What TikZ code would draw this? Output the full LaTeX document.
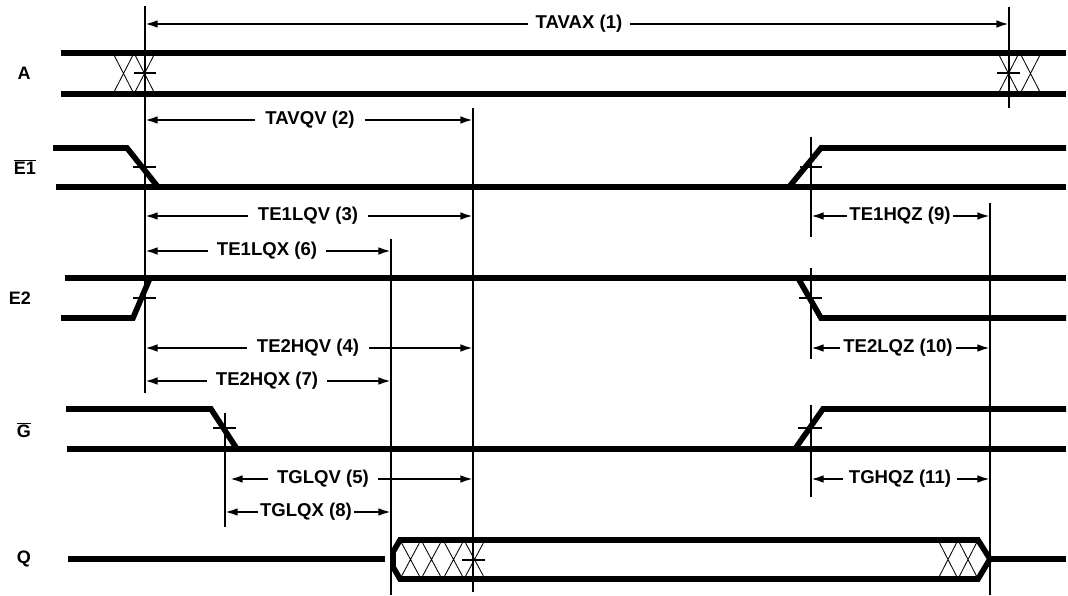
\documentclass[tikz,border=0pt]{standalone}
\usepackage{fontspec}
\setmainfont{Liberation Sans}
\usetikzlibrary{arrows.meta}

\begin{document}
\begin{tikzpicture}[x=0.025cm,y=-0.025cm,
    sig/.style={line width=4pt},
    hatch/.style={line width=0.6pt},
    marker/.style={line width=1.5pt},
    tickmark/.style={line width=1.4pt},
    dim/.style={line width=1.5pt,-{Latex[length=9pt,width=5.5pt]}},
    tlabel/.style={font=\bfseries\fontsize{13.2}{15}\selectfont,inner xsep=5pt,inner ysep=0pt},
    slabel/.style={font=\bfseries\fontsize{12.8}{15}\selectfont}]

      \useasboundingbox (0,0) rectangle (1068,596);

      % Signal names
      \node[slabel] (nA) at (24,73) {A};
      \node[slabel] (nE1) at (25,167) {$\overline{\hbox{E1}}$};
      \node[slabel] (nE2) at (20,298) {E2};
      \node[slabel] (nG) at (24,430) {$\overline{\hbox{G}}$};
      \node[slabel] (nQ) at (24,559) {Q};

      % Marker positions
      \coordinate (mA) at (145,0);
      \coordinate (mB) at (1009,0);
      \coordinate (mC) at (473,0);
      \coordinate (mD) at (391,0);
      \coordinate (mE) at (225,0);
      \coordinate (mF) at (811,0);
      \coordinate (mG) at (990,0);

      % Hatching
      \foreach \x in {113,134}
        \draw[hatch] (\x,53) -- (\x+21,94) (\x,94) -- (\x+21,53);
      \foreach \x in {998,1020}
        \draw[hatch] (\x,53) -- (\x+21,94) (\x,94) -- (\x+21,53);
      \foreach \x in {400,421,443,464}
        \draw[hatch] (\x,540) -- (\x+21,579) (\x,579) -- (\x+21,540);
      \foreach \x in {938,958}
        \draw[hatch] (\x,540) -- (\x+20,579) (\x,579) -- (\x+20,540);

      % Signals
      \draw[sig] (61,53) -- (1066,53);
      \draw[sig] (61,94) -- (1066,94);

      \draw[sig] (53,148) -- (127,148) -- (158,187);
      \draw[sig] (56,187) -- (1066,187);
      \draw[sig] (789,187) -- (821,148) -- (1066,148);

      \draw[sig] (65,278) -- (1066,278);
      \draw[sig] (61,318) -- (133,318) -- (150,278);
      \draw[sig] (798,278) -- (821,318) -- (1066,318);

      \draw[sig] (66,409) -- (211,409) -- (237,449);
      \draw[sig] (67,449) -- (1066,449);
      \draw[sig] (795,449) -- (823,409) -- (1066,409);

      \draw[sig] (68,559) -- (385,559);
      \draw[sig] (400,540) -- (978,540) -- (990,559) -- (978,579) -- (400,579)
        -- (393,567) -- (393,552) -- cycle;
      \draw[sig] (990,559) -- (1066,559);

      % Vertical markers
      \draw[marker] (145,6) -- (145,393);
      \draw[marker] (1009,7) -- (1009,108);
      \draw[marker] (473,108) -- (473,592);
      \draw[marker] (391,239) -- (391,595);
      \draw[marker] (225,413) -- (225,527);
      \draw[marker] (811,137) -- (811,237);
      \draw[marker] (811,268) -- (811,359);
      \draw[marker] (811,405) -- (811,497);
      \draw[marker] (990,203) -- (990,595);

      % Crossing ticks
      \draw[tickmark] (134,73) -- (156,73);
      \draw[tickmark] (997,73) -- (1020,73);
      \draw[tickmark] (133,167) -- (156,167);
      \draw[tickmark] (800,167) -- (822,167);
      \draw[tickmark] (133,298) -- (156,298);
      \draw[tickmark] (799,298) -- (822,298);
      \draw[tickmark] (213,428) -- (236,428);
      \draw[tickmark] (798,428) -- (822,428);
      \draw[tickmark] (462,560) -- (485,560);

      % Timing labels
      \node[tlabel] (tavax) at (579,24) {TAVAX (1)};
      \node[tlabel,inner xsep=7pt] (tavqv) at (310,120) {TAVQV (2)};
      \node[tlabel,inner xsep=7pt] (te1lqv) at (308,216) {TE1LQV (3)};
      \node[tlabel,inner xsep=6pt] (te1lqx) at (267,251) {TE1LQX (6)};
      \node[tlabel,inner xsep=7pt] (te2hqv) at (308,348) {TE2HQV (4)};
      \node[tlabel,inner xsep=6pt] (te2hqx) at (267,381) {TE2HQX (7)};
      \node[tlabel,inner xsep=6pt] (tglqv) at (323,479) {TGLQV (5)};
      \node[tlabel,inner xsep=1.5pt] (tglqx) at (306,512) {TGLQX (8)};
      \node[tlabel,inner xsep=1.5pt] (te1hqz) at (900,216) {TE1HQZ (9)};
      \node[tlabel,inner xsep=2pt] (te2lqz) at (898,348) {TE2LQZ (10)};
      \node[tlabel,inner xsep=4pt] (tghqz) at (900,479) {TGHQZ (11)};

      % Timing arrows
      \draw[dim] (tavax.west) -- (tavax.west -| mA);
      \draw[dim] (tavax.east) -- (tavax.east -| mB);
      \draw[dim] (tavqv.west) -- (tavqv.west -| mA);
      \draw[dim] (tavqv.east) -- (tavqv.east -| mC);
      \draw[dim] (te1lqv.west) -- (te1lqv.west -| mA);
      \draw[dim] (te1lqv.east) -- (te1lqv.east -| mC);
      \draw[dim] (te1lqx.west) -- (te1lqx.west -| mA);
      \draw[dim] (te1lqx.east) -- (te1lqx.east -| mD);
      \draw[dim] (te2hqv.west) -- (te2hqv.west -| mA);
      \draw[dim] (te2hqv.east) -- (te2hqv.east -| mC);
      \draw[dim] (te2hqx.west) -- (te2hqx.west -| mA);
      \draw[dim] (te2hqx.east) -- (te2hqx.east -| mD);
      \draw[dim,shorten >=3.5pt] (tglqv.west) -- (tglqv.west -| mE);
      \draw[dim] (tglqv.east) -- (tglqv.east -| mC);
      \draw[dim] (tglqx.west) -- (tglqx.west -| mE);
      \draw[dim] (tglqx.east) -- (tglqx.east -| mD);
      \draw[dim] (te1hqz.west) -- (te1hqz.west -| mF);
      \draw[dim] (te1hqz.east) -- (te1hqz.east -| mG);
      \draw[dim] (te2lqz.west) -- (te2lqz.west -| mF);
      \draw[dim] (te2lqz.east) -- (te2lqz.east -| mG);
      \draw[dim] (tghqz.west) -- (tghqz.west -| mF);
      \draw[dim] (tghqz.east) -- (tghqz.east -| mG);

    \end{tikzpicture}
\end{document}
